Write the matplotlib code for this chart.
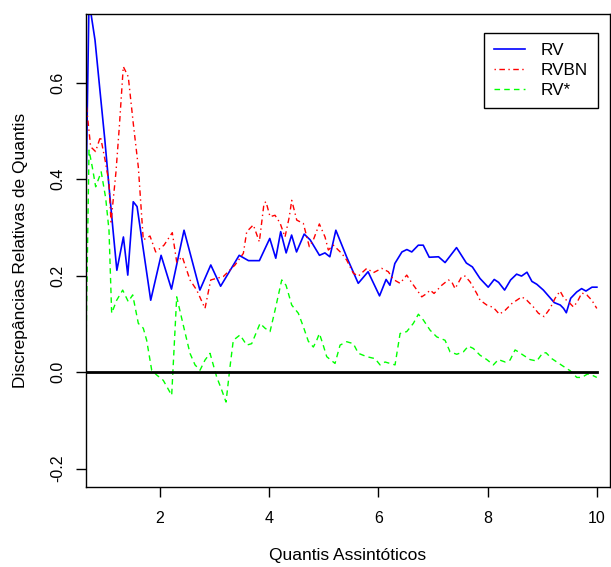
import matplotlib
matplotlib.use("Agg")
import matplotlib.pyplot as plt

plt.rcParams['font.family'] = ['Liberation Sans', 'DejaVu Sans']

# RV (blue, solid)
rv_x = [0.645, 0.70, 0.74, 0.81, 0.90, 0.99, 1.08, 1.14, 1.21, 1.33, 1.41, 1.51, 1.58,
        1.83, 2.02, 2.21, 2.44, 2.73, 2.93, 3.11, 3.45, 3.62, 3.82, 4.01, 4.12, 4.21,
        4.31, 4.41, 4.50, 4.64, 4.75, 4.92, 5.02, 5.11, 5.22, 5.42, 5.63, 5.81, 6.02,
        6.14, 6.21, 6.30, 6.43, 6.52, 6.61, 6.73, 6.82, 6.93, 7.10, 7.22, 7.43, 7.61,
        7.72, 7.86, 8.01, 8.12, 8.20, 8.31, 8.42, 8.53, 8.62, 8.72, 8.81, 8.90, 9.02,
        9.22, 9.33, 9.39, 9.44, 9.52, 9.63, 9.72, 9.80, 9.91, 10.0]
rv_y = [0.37, 0.77, 0.74, 0.688, 0.584, 0.481, 0.367, 0.294, 0.211, 0.280, 0.201, 0.353,
        0.343, 0.149, 0.242, 0.172, 0.294, 0.170, 0.222, 0.178, 0.242, 0.231, 0.231,
        0.277, 0.236, 0.291, 0.247, 0.284, 0.249, 0.286, 0.274, 0.242, 0.247, 0.239,
        0.294, 0.238, 0.184, 0.208, 0.158, 0.192, 0.180, 0.225, 0.249, 0.254, 0.249,
        0.263, 0.263, 0.238, 0.239, 0.227, 0.258, 0.226, 0.218, 0.194, 0.176, 0.192,
        0.186, 0.170, 0.191, 0.203, 0.199, 0.207, 0.188, 0.182, 0.170, 0.144, 0.139,
        0.132, 0.123, 0.153, 0.166, 0.173, 0.168, 0.176, 0.176]

# RVBN (red, dot-dash)
rvbn_x = [0.645, 0.73, 0.82, 0.91, 1.005, 1.066, 1.103, 1.194, 1.255, 1.328, 1.419, 1.511,
          1.603, 1.694, 1.817, 1.921, 2.073, 2.225, 2.306, 2.408, 2.549, 2.672, 2.824,
          2.929, 3.159, 3.374, 3.526, 3.588, 3.709, 3.819, 3.905, 3.941, 4.015, 4.106,
          4.198, 4.289, 4.368, 4.412, 4.504, 4.625, 4.734, 4.808, 4.918, 5.022, 5.082,
          5.174, 5.328, 5.419, 5.540, 5.632, 5.786, 5.907, 6.060, 6.181, 6.273, 6.396,
          6.518, 6.610, 6.731, 6.793, 6.885, 6.945, 7.018, 7.159, 7.280, 7.342, 7.403,
          7.526, 7.586, 7.678, 7.800, 7.861, 7.984, 8.104, 8.214, 8.319, 8.441, 8.533,
          8.625, 8.716, 8.837, 8.929, 9.033, 9.143, 9.234, 9.326, 9.399, 9.478, 9.570,
          9.643, 9.723, 9.815, 9.907, 9.998]
rvbn_y = [0.56, 0.467, 0.457, 0.488, 0.433, 0.392, 0.311, 0.415, 0.508, 0.633, 0.612,
          0.515, 0.425, 0.274, 0.282, 0.249, 0.263, 0.289, 0.228, 0.239, 0.191, 0.170,
          0.132, 0.191, 0.198, 0.222, 0.246, 0.291, 0.305, 0.270, 0.350, 0.353, 0.322,
          0.325, 0.309, 0.280, 0.322, 0.356, 0.315, 0.308, 0.260, 0.274, 0.307, 0.280,
          0.253, 0.263, 0.246, 0.232, 0.205, 0.199, 0.215, 0.206, 0.215, 0.208, 0.192,
          0.184, 0.201, 0.185, 0.166, 0.156, 0.163, 0.170, 0.163, 0.180, 0.191, 0.187,
          0.173, 0.198, 0.199, 0.187, 0.163, 0.149, 0.139, 0.134, 0.120, 0.128, 0.142,
          0.149, 0.156, 0.149, 0.135, 0.122, 0.115, 0.132, 0.153, 0.168, 0.153, 0.146,
          0.135, 0.146, 0.164, 0.160, 0.149, 0.132]

# RV* (green, dashed)
rvs_x = [0.645, 0.70, 0.76, 0.822, 0.923, 1.005, 1.066, 1.115, 1.207, 1.317, 1.419, 1.500,
         1.603, 1.694, 1.756, 1.848, 1.940, 2.060, 2.214, 2.306, 2.427, 2.549, 2.641,
         2.733, 2.824, 2.916, 3.038, 3.130, 3.209, 3.282, 3.342, 3.465, 3.588, 3.679,
         3.832, 3.923, 4.015, 4.106, 4.229, 4.308, 4.412, 4.533, 4.625, 4.716, 4.808,
         4.870, 4.918, 4.980, 5.053, 5.205, 5.297, 5.419, 5.540, 5.632, 5.786, 5.938,
         6.029, 6.121, 6.212, 6.304, 6.396, 6.518, 6.639, 6.731, 6.822, 6.945, 7.068,
         7.220, 7.311, 7.434, 7.555, 7.647, 7.738, 7.861, 7.984, 8.104, 8.196, 8.319,
         8.410, 8.502, 8.562, 8.654, 8.777, 8.899, 9.009, 9.070, 9.174, 9.266, 9.386,
         9.509, 9.632, 9.723, 9.826, 9.907, 9.998]
rvs_y = [0.046, 0.460, 0.425, 0.384, 0.415, 0.361, 0.294, 0.122, 0.149, 0.170, 0.146,
         0.160, 0.101, 0.091, 0.066, 0.004, -0.006, -0.017, -0.048, 0.156, 0.097, 0.039,
         0.015, 0.004, 0.025, 0.039, -0.010, -0.037, -0.062, 0.011, 0.066, 0.077, 0.056,
         0.059, 0.101, 0.091, 0.084, 0.128, 0.191, 0.180, 0.139, 0.122, 0.094, 0.064,
         0.052, 0.066, 0.080, 0.059, 0.032, 0.018, 0.056, 0.063, 0.059, 0.039, 0.032,
         0.028, 0.015, 0.021, 0.018, 0.015, 0.080, 0.084, 0.101, 0.120, 0.108, 0.087,
         0.073, 0.066, 0.042, 0.037, 0.042, 0.054, 0.049, 0.035, 0.026, 0.015, 0.026,
         0.021, 0.025, 0.046, 0.042, 0.035, 0.026, 0.023, 0.040, 0.040, 0.028, 0.021,
         0.012, 0.003, -0.011, -0.011, -0.004, -0.006, -0.011]

series_labels = ["RV", "RVBN", "RV*"]
x_ticks = [2, 4, 6, 8, 10]
y_ticks = [-0.2, 0.0, 0.2, 0.4, 0.6]
zero_x = [0.0, 10.0]
zero_y = [0.0, 0.0]

fig = plt.figure(figsize=(6.11, 5.67), dpi=100)
ax = fig.add_axes([86/611, 1 - 487/567, 524/611, 473/567])

ax.plot(rv_x, rv_y, color="#0000FF", lw=1.2, label=series_labels[0])
ax.plot(rvbn_x, rvbn_y, color="#FF0000", lw=1.0, dashes=(1, 2.5, 4, 2.5), label=series_labels[1])
ax.plot(rvs_x, rvs_y, color="#00FF00", lw=1.0, dashes=(4, 3), label=series_labels[2])
ax.plot(zero_x, zero_y, color="black", lw=2)

ax.set_xlim(0.645, 10.24)
ax.set_ylim(-0.238, 0.742)
ax.set_xticks(x_ticks)
ax.set_xticklabels([str(t) for t in x_ticks])
ax.set_yticks(y_ticks)
ax.set_yticklabels(["-0.2", "0.0", "0.2", "0.4", "0.6"], rotation=90, va="center")
ax.tick_params(direction="out", length=7, width=1, labelsize=11.5, colors="black")
ax.tick_params(axis="x", pad=10)
ax.tick_params(axis="y", pad=8)
for sp in ax.spines.values():
    sp.set_color("black")
    sp.set_linewidth(1)

ax.set_xlabel("Quantis Assintóticos", fontsize=12.5, labelpad=16)
ax.set_ylabel("Discrepâncias Relativas de Quantis", fontsize=12.5, labelpad=16)

leg = ax.legend(loc="upper right", bbox_to_anchor=(0.977, 0.96), borderaxespad=0,
                fontsize=12.3, fancybox=False, framealpha=1, edgecolor="black",
                handlelength=1.8, labelspacing=0.28, borderpad=0.6, handletextpad=0.9)
leg.get_frame().set_linewidth(1)

fig.savefig("out.png", dpi=100)
